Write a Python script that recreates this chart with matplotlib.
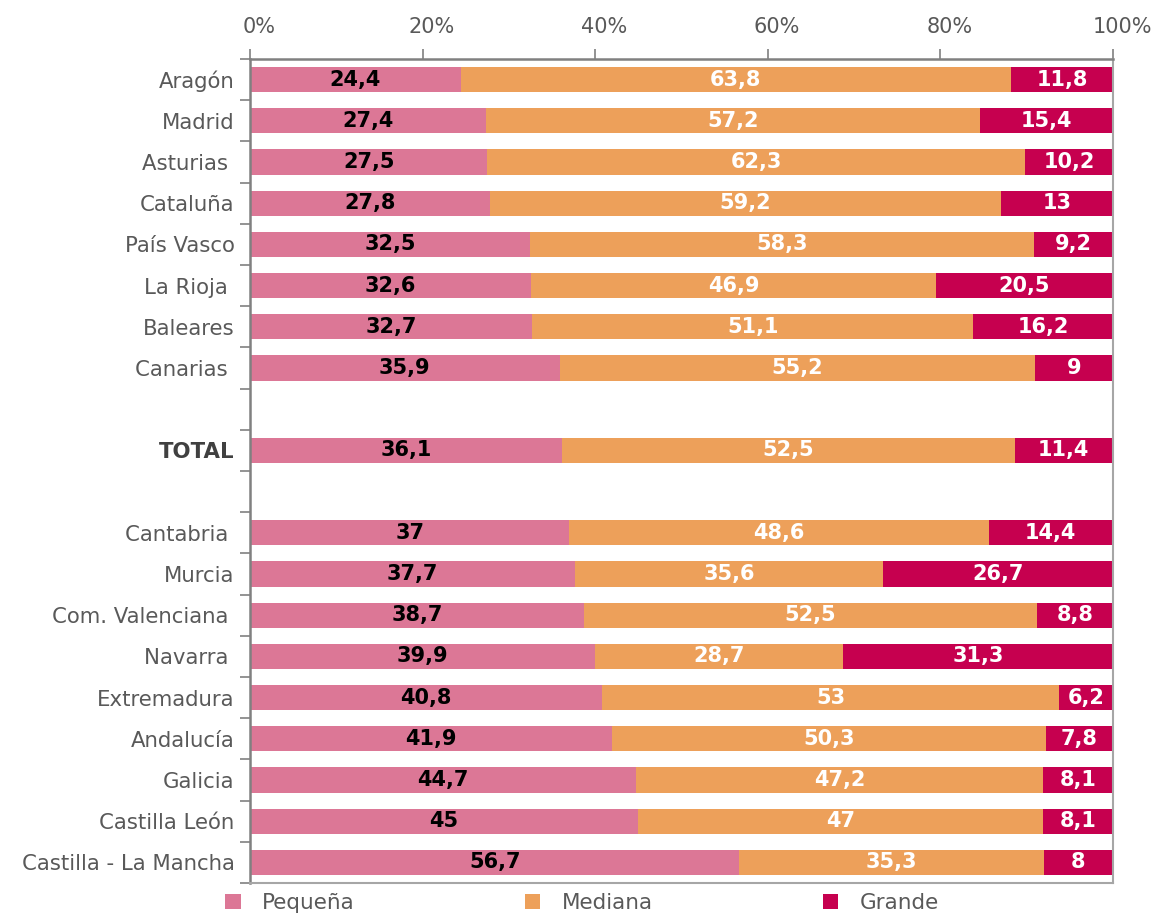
import matplotlib.pyplot as plt
import matplotlib.transforms as mtransforms
from matplotlib.patches import Patch
import numpy as np

# data, top to bottom (empty strings are spacer rows)
regiones = ["Aragón", "Madrid", "Asturias ", "Cataluña", "País Vasco", "La Rioja ",
            "Baleares", "Canarias ", "", "TOTAL", "", "Cantabria ", "Murcia",
            "Com. Valenciana ", "Navarra ", "Extremadura", "Andalucía", "Galicia",
            "Castilla León", "Castilla - La Mancha"]
pequena = [24.4, 27.4, 27.5, 27.8, 32.5, 32.6, 32.7, 35.9, None, 36.1, None,
           37, 37.7, 38.7, 39.9, 40.8, 41.9, 44.7, 45, 56.7]
mediana = [63.8, 57.2, 62.3, 59.2, 58.3, 46.9, 51.1, 55.2, None, 52.5, None,
           48.6, 35.6, 52.5, 28.7, 53, 50.3, 47.2, 47, 35.3]
grande = [11.8, 15.4, 10.2, 13, 9.2, 20.5, 16.2, 9, None, 11.4, None,
          14.4, 26.7, 8.8, 31.3, 6.2, 7.8, 8.1, 8.1, 8]
series_names = ["Pequeña", "Mediana", "Grande"]
colors = ["#DC7796", "#EDA05A", "#C6004F"]
label_colors = ["black", "white", "white"]

plt.rcParams['font.family'] = ['DejaVu Sans']

fig = plt.figure(figsize=(11.58, 9.15), dpi=100)
ax = fig.add_axes([250 / 1158, 1 - 883 / 915, (1113 - 250) / 1158, (883 - 59) / 915])

y = np.arange(len(regiones))
left = np.zeros(len(regiones))
for name, vals, col, lcol in zip(series_names, [pequena, mediana, grande], colors, label_colors):
    for i in range(len(regiones)):
        if vals[i] is None:
            continue
        tot = pequena[i] + mediana[i] + grande[i]
        w = vals[i] / tot * 100
        ax.barh(y[i], w, left=left[i], height=0.61, color=col)
        txt = f"{vals[i]:g}".replace('.', ',')
        ax.text(left[i] + w / 2, y[i], txt, ha='center', va='center',
                fontsize=15, fontweight='bold', color=lcol)
        left[i] += w

ax.set_xlim(0, 100)
ax.set_ylim(len(regiones) - 0.5, -0.5)

# x axis on top
ax.xaxis.tick_top()
ax.set_xticks(np.arange(0, 101, 20))
ax.set_xticklabels([f"{v}%" for v in range(0, 101, 20)])
ax.tick_params(axis='x', which='major', direction='out', length=7, width=1.2,
               color='#808080', labelsize=15, labelcolor='#595959', pad=9)
offset = mtransforms.ScaledTranslation(9 / 100, 0, fig.dpi_scale_trans)
for lab in ax.get_xticklabels():
    lab.set_transform(lab.get_transform() + offset)

# y axis: labels at rows, ticks at boundaries
ax.set_yticks(y)
ax.set_yticklabels(regiones)
ax.set_yticks(np.arange(-0.5, len(regiones), 1), minor=True)
ax.tick_params(axis='y', which='major', length=0, labelsize=15.3,
               labelcolor='#595959', pad=11)
ax.tick_params(axis='y', which='minor', direction='out', length=7, width=1.2,
               color='#808080')
for lab in ax.get_yticklabels():
    if lab.get_text() == "TOTAL":
        lab.set_fontweight('bold')
        lab.set_color('#404040')

for s in ['left', 'top']:
    ax.spines[s].set_color('#808080')
    ax.spines[s].set_linewidth(1.8)
for s in ['right', 'bottom']:
    ax.spines[s].set_color('#A6A6A6')
    ax.spines[s].set_linewidth(1.5)

handles = [Patch(facecolor=c, edgecolor='none') for c in colors]
fig.legend(handles, series_names, loc='center', ncol=3,
           bbox_to_anchor=(582 / 1158, 1 - 903 / 915), frameon=False,
           fontsize=15.5, labelcolor='#595959', handlelength=0.7, handleheight=0.7,
           handletextpad=1.0, columnspacing=7.9, borderpad=0)

fig.savefig("out.png", dpi=100)
